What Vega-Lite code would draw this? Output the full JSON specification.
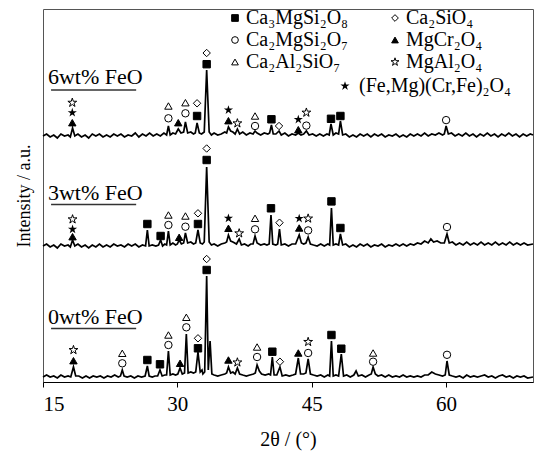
{
"$schema":"https://vega.github.io/schema/vega-lite/v6.json",
"width":490,"height":373,"autosize":{"type":"none"},
"padding":{"left":43,"top":9,"right":3,"bottom":69},
"background":"white",
"config":{"view":{"stroke":"#555","strokeWidth":1},"font":"Liberation Serif"},
"datasets":{
"tr":[
{"s":"6","x":15.0,"y":246},{"s":"6","x":15.4,"y":248},{"s":"6","x":15.8,"y":245},{"s":"6","x":16.2,"y":247},{"s":"6","x":16.6,"y":244},{"s":"6","x":17.0,"y":248},{"s":"6","x":17.4,"y":246},{"s":"6","x":17.8,"y":247},{"s":"6","x":18.05,"y":245},{"s":"6","x":18.3,"y":254},{"s":"6","x":18.55,"y":246},{"s":"6","x":18.9,"y":248},{"s":"6","x":19.3,"y":245},{"s":"6","x":19.7,"y":247},{"s":"6","x":20.1,"y":244},{"s":"6","x":20.5,"y":248},{"s":"6","x":20.9,"y":246},{"s":"6","x":21.3,"y":248},{"s":"6","x":21.7,"y":245},{"s":"6","x":22.1,"y":247},{"s":"6","x":22.5,"y":245},{"s":"6","x":22.9,"y":248},{"s":"6","x":23.3,"y":246},{"s":"6","x":23.7,"y":248},{"s":"6","x":24.1,"y":245},{"s":"6","x":24.5,"y":247},{"s":"6","x":24.9,"y":246},{"s":"6","x":25.3,"y":249},{"s":"6","x":25.7,"y":245},{"s":"6","x":26.1,"y":248},{"s":"6","x":26.5,"y":246},{"s":"6","x":26.9,"y":249},{"s":"6","x":27.3,"y":246},{"s":"6","x":27.7,"y":248},{"s":"6","x":28.1,"y":246},{"s":"6","x":28.5,"y":249},{"s":"6","x":28.8,"y":247},{"s":"6","x":29.0,"y":256},{"s":"6","x":29.2,"y":247},{"s":"6","x":29.5,"y":249},{"s":"6","x":29.8,"y":248},{"s":"6","x":30.1,"y":253},{"s":"6","x":30.4,"y":249},{"s":"6","x":30.7,"y":250},{"s":"6","x":30.9,"y":260},{"s":"6","x":31.15,"y":249},{"s":"6","x":31.5,"y":250},{"s":"6","x":31.8,"y":248},{"s":"6","x":32.0,"y":249},{"s":"6","x":32.2,"y":259},{"s":"6","x":32.45,"y":249},{"s":"6","x":32.7,"y":248},{"s":"6","x":33.0,"y":250},{"s":"6","x":33.27,"y":312},{"s":"6","x":33.55,"y":250},{"s":"6","x":33.8,"y":247},{"s":"6","x":34.1,"y":249},{"s":"6","x":34.5,"y":247},{"s":"6","x":34.9,"y":248},{"s":"6","x":35.3,"y":250},{"s":"6","x":35.5,"y":249},{"s":"6","x":35.7,"y":255},{"s":"6","x":35.95,"y":251},{"s":"6","x":36.2,"y":250},{"s":"6","x":36.45,"y":248},{"s":"6","x":36.7,"y":253},{"s":"6","x":36.95,"y":248},{"s":"6","x":37.3,"y":250},{"s":"6","x":37.7,"y":247},{"s":"6","x":38.1,"y":249},{"s":"6","x":38.45,"y":248},{"s":"6","x":38.67,"y":251},{"s":"6","x":38.9,"y":249},{"s":"6","x":39.3,"y":247},{"s":"6","x":39.7,"y":249},{"s":"6","x":40.1,"y":248},{"s":"6","x":40.3,"y":249},{"s":"6","x":40.5,"y":257},{"s":"6","x":40.7,"y":248},{"s":"6","x":41.0,"y":248},{"s":"6","x":41.35,"y":251},{"s":"6","x":41.6,"y":247},{"s":"6","x":42.0,"y":249},{"s":"6","x":42.4,"y":246},{"s":"6","x":42.8,"y":248},{"s":"6","x":43.2,"y":247},{"s":"6","x":43.5,"y":249},{"s":"6","x":43.8,"y":247},{"s":"6","x":44.1,"y":248},{"s":"6","x":44.4,"y":251},{"s":"6","x":44.7,"y":247},{"s":"6","x":45.1,"y":248},{"s":"6","x":45.5,"y":246},{"s":"6","x":45.9,"y":248},{"s":"6","x":46.3,"y":246},{"s":"6","x":46.7,"y":248},{"s":"6","x":46.95,"y":247},{"s":"6","x":47.15,"y":258},{"s":"6","x":47.4,"y":247},{"s":"6","x":47.7,"y":249},{"s":"6","x":48.0,"y":248},{"s":"6","x":48.2,"y":261},{"s":"6","x":48.45,"y":247},{"s":"6","x":48.8,"y":248},{"s":"6","x":49.2,"y":245},{"s":"6","x":49.6,"y":247},{"s":"6","x":50.0,"y":245},{"s":"6","x":50.4,"y":248},{"s":"6","x":50.8,"y":246},{"s":"6","x":51.2,"y":248},{"s":"6","x":51.6,"y":245},{"s":"6","x":52.0,"y":248},{"s":"6","x":52.4,"y":246},{"s":"6","x":52.8,"y":248},{"s":"6","x":53.2,"y":245},{"s":"6","x":53.6,"y":247},{"s":"6","x":54.0,"y":246},{"s":"6","x":54.4,"y":248},{"s":"6","x":54.8,"y":245},{"s":"6","x":55.2,"y":247},{"s":"6","x":55.6,"y":245},{"s":"6","x":56.0,"y":248},{"s":"6","x":56.4,"y":246},{"s":"6","x":56.8,"y":248},{"s":"6","x":57.2,"y":246},{"s":"6","x":57.6,"y":249},{"s":"6","x":58.0,"y":246},{"s":"6","x":58.4,"y":248},{"s":"6","x":58.8,"y":247},{"s":"6","x":59.2,"y":249},{"s":"6","x":59.6,"y":247},{"s":"6","x":59.8,"y":248},{"s":"6","x":60.0,"y":256},{"s":"6","x":60.25,"y":248},{"s":"6","x":60.6,"y":249},{"s":"6","x":61.0,"y":246},{"s":"6","x":61.4,"y":248},{"s":"6","x":61.8,"y":246},{"s":"6","x":62.2,"y":249},{"s":"6","x":62.6,"y":246},{"s":"6","x":63.0,"y":248},{"s":"6","x":63.4,"y":245},{"s":"6","x":63.8,"y":248},{"s":"6","x":64.2,"y":246},{"s":"6","x":64.6,"y":249},{"s":"6","x":65.0,"y":246},{"s":"6","x":65.4,"y":248},{"s":"6","x":65.8,"y":245},{"s":"6","x":66.2,"y":248},{"s":"6","x":66.6,"y":246},{"s":"6","x":67.0,"y":249},{"s":"6","x":67.4,"y":246},{"s":"6","x":67.8,"y":248},{"s":"6","x":68.2,"y":245},{"s":"6","x":68.6,"y":248},{"s":"6","x":69.0,"y":246},{"s":"6","x":69.4,"y":248},{"s":"6","x":69.7,"y":247},
{"s":"3","x":15.0,"y":136},{"s":"3","x":15.4,"y":138},{"s":"3","x":15.8,"y":135},{"s":"3","x":16.2,"y":137},{"s":"3","x":16.6,"y":134},{"s":"3","x":17.0,"y":138},{"s":"3","x":17.4,"y":136},{"s":"3","x":17.8,"y":137},{"s":"3","x":18.05,"y":135},{"s":"3","x":18.3,"y":142},{"s":"3","x":18.55,"y":136},{"s":"3","x":18.9,"y":138},{"s":"3","x":19.3,"y":135},{"s":"3","x":19.7,"y":137},{"s":"3","x":20.1,"y":134},{"s":"3","x":20.5,"y":137},{"s":"3","x":20.9,"y":135},{"s":"3","x":21.3,"y":138},{"s":"3","x":21.7,"y":135},{"s":"3","x":22.1,"y":137},{"s":"3","x":22.5,"y":135},{"s":"3","x":22.9,"y":138},{"s":"3","x":23.3,"y":136},{"s":"3","x":23.7,"y":137},{"s":"3","x":24.1,"y":135},{"s":"3","x":24.5,"y":138},{"s":"3","x":24.9,"y":136},{"s":"3","x":25.3,"y":138},{"s":"3","x":25.7,"y":135},{"s":"3","x":26.1,"y":137},{"s":"3","x":26.45,"y":136},{"s":"3","x":26.65,"y":152},{"s":"3","x":26.85,"y":136},{"s":"3","x":27.2,"y":137},{"s":"3","x":27.6,"y":136},{"s":"3","x":27.9,"y":137},{"s":"3","x":28.13,"y":142},{"s":"3","x":28.35,"y":136},{"s":"3","x":28.6,"y":138},{"s":"3","x":28.8,"y":137},{"s":"3","x":29.0,"y":151},{"s":"3","x":29.2,"y":137},{"s":"3","x":29.5,"y":139},{"s":"3","x":29.8,"y":137},{"s":"3","x":30.0,"y":138},{"s":"3","x":30.2,"y":142},{"s":"3","x":30.45,"y":138},{"s":"3","x":30.7,"y":139},{"s":"3","x":30.9,"y":149},{"s":"3","x":31.15,"y":139},{"s":"3","x":31.5,"y":140},{"s":"3","x":31.8,"y":138},{"s":"3","x":32.05,"y":139},{"s":"3","x":32.3,"y":152},{"s":"3","x":32.55,"y":139},{"s":"3","x":32.8,"y":138},{"s":"3","x":33.0,"y":140},{"s":"3","x":33.27,"y":215},{"s":"3","x":33.55,"y":140},{"s":"3","x":33.8,"y":137},{"s":"3","x":34.1,"y":138},{"s":"3","x":34.5,"y":136},{"s":"3","x":34.9,"y":138},{"s":"3","x":35.3,"y":139},{"s":"3","x":35.5,"y":140},{"s":"3","x":35.7,"y":147},{"s":"3","x":35.95,"y":141},{"s":"3","x":36.2,"y":140},{"s":"3","x":36.6,"y":138},{"s":"3","x":36.9,"y":143},{"s":"3","x":37.15,"y":137},{"s":"3","x":37.5,"y":138},{"s":"3","x":37.9,"y":136},{"s":"3","x":38.2,"y":138},{"s":"3","x":38.45,"y":138},{"s":"3","x":38.67,"y":146},{"s":"3","x":38.9,"y":139},{"s":"3","x":39.3,"y":137},{"s":"3","x":39.7,"y":138},{"s":"3","x":40.0,"y":137},{"s":"3","x":40.25,"y":138},{"s":"3","x":40.45,"y":167},{"s":"3","x":40.65,"y":138},{"s":"3","x":41.0,"y":137},{"s":"3","x":41.2,"y":138},{"s":"3","x":41.4,"y":153},{"s":"3","x":41.6,"y":137},{"s":"3","x":42.0,"y":138},{"s":"3","x":42.4,"y":136},{"s":"3","x":42.8,"y":138},{"s":"3","x":43.2,"y":138},{"s":"3","x":43.6,"y":147},{"s":"3","x":43.85,"y":139},{"s":"3","x":44.1,"y":138},{"s":"3","x":44.35,"y":139},{"s":"3","x":44.6,"y":145},{"s":"3","x":44.85,"y":138},{"s":"3","x":45.2,"y":137},{"s":"3","x":45.6,"y":136},{"s":"3","x":46.0,"y":138},{"s":"3","x":46.4,"y":136},{"s":"3","x":46.8,"y":138},{"s":"3","x":47.0,"y":137},{"s":"3","x":47.2,"y":174},{"s":"3","x":47.4,"y":137},{"s":"3","x":47.7,"y":138},{"s":"3","x":48.0,"y":137},{"s":"3","x":48.2,"y":148},{"s":"3","x":48.45,"y":137},{"s":"3","x":48.8,"y":138},{"s":"3","x":49.2,"y":135},{"s":"3","x":49.6,"y":137},{"s":"3","x":50.0,"y":135},{"s":"3","x":50.4,"y":138},{"s":"3","x":50.8,"y":136},{"s":"3","x":51.2,"y":138},{"s":"3","x":51.6,"y":135},{"s":"3","x":52.0,"y":137},{"s":"3","x":52.4,"y":136},{"s":"3","x":52.8,"y":138},{"s":"3","x":53.2,"y":135},{"s":"3","x":53.6,"y":137},{"s":"3","x":54.0,"y":136},{"s":"3","x":54.4,"y":138},{"s":"3","x":54.8,"y":136},{"s":"3","x":55.2,"y":138},{"s":"3","x":55.6,"y":136},{"s":"3","x":56.0,"y":138},{"s":"3","x":56.4,"y":137},{"s":"3","x":56.8,"y":139},{"s":"3","x":57.2,"y":138},{"s":"3","x":57.6,"y":141},{"s":"3","x":58.0,"y":139},{"s":"3","x":58.3,"y":143},{"s":"3","x":58.6,"y":140},{"s":"3","x":59.0,"y":141},{"s":"3","x":59.4,"y":139},{"s":"3","x":59.8,"y":139},{"s":"3","x":60.1,"y":148},{"s":"3","x":60.35,"y":139},{"s":"3","x":60.7,"y":140},{"s":"3","x":61.1,"y":137},{"s":"3","x":61.5,"y":139},{"s":"3","x":61.9,"y":137},{"s":"3","x":62.3,"y":140},{"s":"3","x":62.7,"y":137},{"s":"3","x":63.1,"y":139},{"s":"3","x":63.5,"y":137},{"s":"3","x":63.9,"y":140},{"s":"3","x":64.3,"y":137},{"s":"3","x":64.7,"y":139},{"s":"3","x":65.1,"y":137},{"s":"3","x":65.5,"y":140},{"s":"3","x":65.9,"y":137},{"s":"3","x":66.3,"y":139},{"s":"3","x":66.7,"y":137},{"s":"3","x":67.1,"y":140},{"s":"3","x":67.5,"y":137},{"s":"3","x":67.9,"y":139},{"s":"3","x":68.3,"y":137},{"s":"3","x":68.7,"y":139},{"s":"3","x":69.1,"y":137},{"s":"3","x":69.7,"y":138},
{"s":"0","x":15.0,"y":5},{"s":"0","x":15.4,"y":7},{"s":"0","x":15.8,"y":5},{"s":"0","x":16.2,"y":6},{"s":"0","x":16.6,"y":4},{"s":"0","x":17.0,"y":7},{"s":"0","x":17.4,"y":5},{"s":"0","x":17.8,"y":6},{"s":"0","x":18.1,"y":5},{"s":"0","x":18.4,"y":15},{"s":"0","x":18.65,"y":6},{"s":"0","x":19.0,"y":6},{"s":"0","x":19.4,"y":4},{"s":"0","x":19.8,"y":6},{"s":"0","x":20.2,"y":4},{"s":"0","x":20.6,"y":6},{"s":"0","x":21.0,"y":5},{"s":"0","x":21.4,"y":6},{"s":"0","x":21.8,"y":4},{"s":"0","x":22.2,"y":6},{"s":"0","x":22.6,"y":5},{"s":"0","x":23.0,"y":7},{"s":"0","x":23.4,"y":5},{"s":"0","x":23.65,"y":6},{"s":"0","x":23.85,"y":12},{"s":"0","x":24.05,"y":6},{"s":"0","x":24.4,"y":5},{"s":"0","x":24.8,"y":6},{"s":"0","x":25.2,"y":4},{"s":"0","x":25.6,"y":6},{"s":"0","x":26.0,"y":5},{"s":"0","x":26.4,"y":6},{"s":"0","x":26.65,"y":16},{"s":"0","x":26.85,"y":6},{"s":"0","x":27.2,"y":5},{"s":"0","x":27.5,"y":6},{"s":"0","x":27.8,"y":6},{"s":"0","x":28.06,"y":12},{"s":"0","x":28.3,"y":6},{"s":"0","x":28.6,"y":7},{"s":"0","x":28.8,"y":7},{"s":"0","x":29.0,"y":31},{"s":"0","x":29.2,"y":7},{"s":"0","x":29.5,"y":8},{"s":"0","x":29.8,"y":7},{"s":"0","x":30.05,"y":8},{"s":"0","x":30.3,"y":14},{"s":"0","x":30.55,"y":8},{"s":"0","x":30.8,"y":9},{"s":"0","x":31.0,"y":48},{"s":"0","x":31.2,"y":9},{"s":"0","x":31.5,"y":10},{"s":"0","x":31.8,"y":9},{"s":"0","x":32.05,"y":10},{"s":"0","x":32.3,"y":30},{"s":"0","x":32.55,"y":10},{"s":"0","x":32.75,"y":12},{"s":"0","x":32.85,"y":8},{"s":"0","x":33.05,"y":10},{"s":"0","x":33.27,"y":106},{"s":"0","x":33.45,"y":12},{"s":"0","x":33.65,"y":41},{"s":"0","x":33.85,"y":8},{"s":"0","x":34.1,"y":7},{"s":"0","x":34.5,"y":6},{"s":"0","x":34.9,"y":7},{"s":"0","x":35.3,"y":8},{"s":"0","x":35.5,"y":9},{"s":"0","x":35.7,"y":15},{"s":"0","x":35.95,"y":9},{"s":"0","x":36.2,"y":10},{"s":"0","x":36.45,"y":8},{"s":"0","x":36.7,"y":14},{"s":"0","x":36.95,"y":8},{"s":"0","x":37.3,"y":7},{"s":"0","x":37.7,"y":6},{"s":"0","x":38.1,"y":7},{"s":"0","x":38.5,"y":8},{"s":"0","x":38.7,"y":9},{"s":"0","x":38.9,"y":17},{"s":"0","x":39.15,"y":11},{"s":"0","x":39.4,"y":8},{"s":"0","x":39.8,"y":7},{"s":"0","x":40.2,"y":8},{"s":"0","x":40.4,"y":7},{"s":"0","x":40.6,"y":25},{"s":"0","x":40.8,"y":7},{"s":"0","x":41.1,"y":7},{"s":"0","x":41.45,"y":15},{"s":"0","x":41.7,"y":6},{"s":"0","x":42.1,"y":7},{"s":"0","x":42.5,"y":6},{"s":"0","x":42.9,"y":7},{"s":"0","x":43.2,"y":8},{"s":"0","x":43.5,"y":24},{"s":"0","x":43.75,"y":8},{"s":"0","x":44.1,"y":8},{"s":"0","x":44.35,"y":9},{"s":"0","x":44.6,"y":23},{"s":"0","x":44.85,"y":8},{"s":"0","x":45.2,"y":7},{"s":"0","x":45.6,"y":6},{"s":"0","x":46.0,"y":7},{"s":"0","x":46.4,"y":5},{"s":"0","x":46.8,"y":7},{"s":"0","x":47.0,"y":6},{"s":"0","x":47.2,"y":41},{"s":"0","x":47.4,"y":6},{"s":"0","x":47.7,"y":7},{"s":"0","x":48.0,"y":6},{"s":"0","x":48.3,"y":28},{"s":"0","x":48.55,"y":6},{"s":"0","x":48.9,"y":7},{"s":"0","x":49.3,"y":5},{"s":"0","x":49.7,"y":7},{"s":"0","x":49.95,"y":11},{"s":"0","x":50.2,"y":6},{"s":"0","x":50.6,"y":7},{"s":"0","x":51.0,"y":5},{"s":"0","x":51.4,"y":7},{"s":"0","x":51.65,"y":8},{"s":"0","x":51.85,"y":15},{"s":"0","x":52.1,"y":8},{"s":"0","x":52.4,"y":6},{"s":"0","x":52.8,"y":7},{"s":"0","x":53.2,"y":5},{"s":"0","x":53.6,"y":7},{"s":"0","x":54.0,"y":5},{"s":"0","x":54.4,"y":6},{"s":"0","x":54.8,"y":5},{"s":"0","x":55.2,"y":7},{"s":"0","x":55.6,"y":5},{"s":"0","x":56.0,"y":6},{"s":"0","x":56.4,"y":5},{"s":"0","x":56.8,"y":6},{"s":"0","x":57.2,"y":5},{"s":"0","x":57.6,"y":7},{"s":"0","x":58.0,"y":7},{"s":"0","x":58.4,"y":10},{"s":"0","x":58.8,"y":8},{"s":"0","x":59.2,"y":7},{"s":"0","x":59.6,"y":6},{"s":"0","x":59.9,"y":7},{"s":"0","x":60.1,"y":21},{"s":"0","x":60.35,"y":7},{"s":"0","x":60.7,"y":6},{"s":"0","x":61.1,"y":5},{"s":"0","x":61.5,"y":6},{"s":"0","x":61.9,"y":4},{"s":"0","x":62.3,"y":7},{"s":"0","x":62.7,"y":5},{"s":"0","x":63.1,"y":6},{"s":"0","x":63.5,"y":5},{"s":"0","x":63.9,"y":6},{"s":"0","x":64.3,"y":7},{"s":"0","x":64.7,"y":5},{"s":"0","x":65.1,"y":6},{"s":"0","x":65.5,"y":4},{"s":"0","x":65.9,"y":6},{"s":"0","x":66.3,"y":7},{"s":"0","x":66.7,"y":5},{"s":"0","x":67.1,"y":6},{"s":"0","x":67.5,"y":4},{"s":"0","x":67.9,"y":6},{"s":"0","x":68.3,"y":5},{"s":"0","x":68.7,"y":6},{"s":"0","x":69.1,"y":4},{"s":"0","x":69.7,"y":5}
],
"mk":[
{"x":18.27,"y":279.3,"p":"MgAl₂O₄"},{"x":18.27,"y":259.3,"p":"MgCr₂O₄"},{"x":29.0,"y":276,"p":"Ca₂Al₂SiO₇"},{"x":29.0,"y":263.7,"p":"Ca₂MgSi₂O₇"},{"x":30.1,"y":259.3,"p":"MgCr₂O₄"},{"x":30.9,"y":279.3,"p":"Ca₂Al₂SiO₇"},{"x":30.9,"y":268.7,"p":"Ca₂MgSi₂O₇"},{"x":32.2,"y":278.7,"p":"Ca₂SiO₄"},{"x":32.2,"y":266,"p":"Ca₃MgSi₂O₈"},{"x":33.27,"y":329,"p":"Ca₂SiO₄"},{"x":33.27,"y":317.8,"p":"Ca₃MgSi₂O₈"},{"x":35.7,"y":261.3,"p":"MgCr₂O₄"},{"x":36.7,"y":258.7,"p":"MgAl₂O₄"},{"x":38.67,"y":266,"p":"Ca₂Al₂SiO₇"},{"x":38.67,"y":256,"p":"Ca₂MgSi₂O₇"},{"x":40.5,"y":262.7,"p":"Ca₃MgSi₂O₈"},{"x":41.35,"y":256,"p":"Ca₂SiO₄"},{"x":43.5,"y":252.3,"p":"MgCr₂O₄"},{"x":44.4,"y":269.4,"p":"MgAl₂O₄"},{"x":44.4,"y":256.4,"p":"Ca₂MgSi₂O₇"},{"x":47.15,"y":263.2,"p":"Ca₃MgSi₂O₈"},{"x":48.2,"y":266,"p":"Ca₃MgSi₂O₈"},{"x":60.0,"y":261.9,"p":"Ca₂MgSi₂O₇"},
{"x":18.3,"y":162.7,"p":"MgAl₂O₄"},{"x":18.3,"y":145.3,"p":"MgCr₂O₄"},{"x":26.65,"y":158,"p":"Ca₃MgSi₂O₈"},{"x":28.13,"y":146,"p":"Ca₃MgSi₂O₈"},{"x":29.0,"y":167,"p":"Ca₂Al₂SiO₇"},{"x":29.0,"y":157,"p":"Ca₂MgSi₂O₇"},{"x":30.2,"y":144.7,"p":"MgCr₂O₄"},{"x":30.9,"y":166,"p":"Ca₂Al₂SiO₇"},{"x":30.9,"y":155.3,"p":"Ca₂MgSi₂O₇"},{"x":32.3,"y":168.7,"p":"Ca₂SiO₄"},{"x":32.3,"y":158,"p":"Ca₃MgSi₂O₈"},{"x":33.27,"y":233.5,"p":"Ca₂SiO₄"},{"x":33.27,"y":222,"p":"Ca₃MgSi₂O₈"},{"x":35.7,"y":153.7,"p":"MgCr₂O₄"},{"x":36.9,"y":148.7,"p":"MgAl₂O₄"},{"x":38.67,"y":163.7,"p":"Ca₂Al₂SiO₇"},{"x":38.67,"y":152.7,"p":"Ca₂MgSi₂O₇"},{"x":40.45,"y":173.7,"p":"Ca₃MgSi₂O₈"},{"x":41.4,"y":159.3,"p":"Ca₂SiO₄"},{"x":43.6,"y":154,"p":"MgCr₂O₄"},{"x":44.6,"y":163.5,"p":"MgAl₂O₄"},{"x":44.6,"y":151.6,"p":"Ca₂MgSi₂O₇"},{"x":47.2,"y":180.6,"p":"Ca₃MgSi₂O₈"},{"x":48.2,"y":154,"p":"Ca₃MgSi₂O₈"},{"x":60.1,"y":155,"p":"Ca₂MgSi₂O₇"},
{"x":18.4,"y":32,"p":"MgAl₂O₄"},{"x":18.4,"y":21.3,"p":"MgCr₂O₄"},{"x":23.85,"y":28.7,"p":"Ca₂Al₂SiO₇"},{"x":23.85,"y":18.7,"p":"Ca₂MgSi₂O₇"},{"x":26.65,"y":22,"p":"Ca₃MgSi₂O₈"},{"x":28.06,"y":17.7,"p":"Ca₃MgSi₂O₈"},{"x":29.0,"y":47,"p":"Ca₂Al₂SiO₇"},{"x":29.0,"y":37,"p":"Ca₂MgSi₂O₇"},{"x":30.3,"y":18.7,"p":"MgCr₂O₄"},{"x":31.0,"y":64.7,"p":"Ca₂Al₂SiO₇"},{"x":31.0,"y":54.7,"p":"Ca₂MgSi₂O₇"},{"x":32.3,"y":43.7,"p":"Ca₂SiO₄"},{"x":32.3,"y":33.7,"p":"Ca₃MgSi₂O₈"},{"x":33.27,"y":123,"p":"Ca₂SiO₄"},{"x":33.27,"y":112,"p":"Ca₃MgSi₂O₈"},{"x":35.7,"y":22,"p":"MgCr₂O₄"},{"x":36.7,"y":19.6,"p":"MgAl₂O₄"},{"x":38.9,"y":35,"p":"Ca₂Al₂SiO₇"},{"x":38.9,"y":25,"p":"Ca₂MgSi₂O₇"},{"x":40.6,"y":30.3,"p":"Ca₃MgSi₂O₈"},{"x":41.45,"y":20.3,"p":"Ca₂SiO₄"},{"x":43.5,"y":29,"p":"MgCr₂O₄"},{"x":44.6,"y":40.1,"p":"MgAl₂O₄"},{"x":44.6,"y":29,"p":"Ca₂MgSi₂O₇"},{"x":47.2,"y":47,"p":"Ca₃MgSi₂O₈"},{"x":48.3,"y":33.3,"p":"Ca₃MgSi₂O₈"},{"x":51.85,"y":29,"p":"Ca₂Al₂SiO₇"},{"x":51.85,"y":20.3,"p":"Ca₂MgSi₂O₇"},{"x":60.1,"y":27.2,"p":"Ca₂MgSi₂O₇"}
],
"st":[
{"x":18.27,"y":269.3,"p":"(Fe,Mg)(Cr,Fe)₂O₄"},{"x":35.7,"y":272,"p":"(Fe,Mg)(Cr,Fe)₂O₄"},{"x":43.5,"y":262.5,"p":"(Fe,Mg)(Cr,Fe)₂O₄"},
{"x":18.3,"y":152.7,"p":"(Fe,Mg)(Cr,Fe)₂O₄"},{"x":35.7,"y":163.7,"p":"(Fe,Mg)(Cr,Fe)₂O₄"},{"x":43.6,"y":163.5,"p":"(Fe,Mg)(Cr,Fe)₂O₄"}
],
"lb":[
{"x":15.55,"y":305,"t":"6wt% FeO"},{"x":15.55,"y":189,"t":"3wt% FeO"},{"x":15.55,"y":65,"t":"0wt% FeO"}
],
"ul":[
{"x":15.9,"x2":25.4,"y":292},{"x":15.9,"x2":25.4,"y":177.5},{"x":15.9,"x2":25.4,"y":53.5}
]
},
"layer":[
{"data":{"name":"tr"},"mark":{"type":"line","color":"black","strokeWidth":1.7},
"encoding":{
"x":{"field":"x","type":"quantitative","scale":{"domain":[15,69.7],"nice":false,"zero":false},
"axis":{"values":[15,30,45,60],"grid":false,"tickSize":5,"tickColor":"black","domainColor":"black","labelFont":"Liberation Serif","labelFontSize":21,"labelColor":"black","labelPadding":6,"title":"2θ / (°)","titleFont":"Liberation Serif","titleFontSize":20,"titleFontWeight":"normal","titleColor":"black","titlePadding":15}},
"y":{"field":"y","type":"quantitative","scale":{"domain":[0,373],"nice":false,"zero":false},
"axis":{"labels":false,"ticks":false,"domain":false,"grid":false,"title":"Intensity / a.u.","titleFont":"Liberation Serif","titleFontSize":18,"titleFontWeight":"normal","titleColor":"black","titlePadding":10}},
"detail":{"field":"s"}}},
{"data":{"name":"ul"},"mark":{"type":"rule","color":"#333","strokeWidth":1.5},
"encoding":{"x":{"field":"x","type":"quantitative"},"x2":{"field":"x2"},"y":{"field":"y","type":"quantitative"}}},
{"data":{"name":"lb"},"mark":{"type":"text","align":"left","baseline":"middle","font":"Liberation Serif","fontSize":22,"color":"black"},
"encoding":{"x":{"field":"x","type":"quantitative"},"y":{"field":"y","type":"quantitative"},"text":{"field":"t"}}},
{"data":{"name":"mk"},"mark":{"type":"point","filled":true,"strokeWidth":1,"size":55,"opacity":1},
"encoding":{"x":{"field":"x","type":"quantitative"},"y":{"field":"y","type":"quantitative"},
"shape":{"field":"p","type":"nominal","scale":{"domain":["Ca₃MgSi₂O₈","Ca₂MgSi₂O₇","Ca₂Al₂SiO₇","Ca₂SiO₄","MgCr₂O₄","MgAl₂O₄"],"range":["square","circle","triangle-up","diamond","triangle-up","M0,-1.25L0.281,-0.386L1.189,-0.386L0.454,0.148L0.735,1.011L0,0.478L-0.735,1.011L-0.454,0.148L-1.189,-0.386L-0.281,-0.386Z"]},
"legend":{"title":null,"orient":"none","legendX":182,"legendY":-1,"columns":2,"columnPadding":36,"rowPadding":2,"labelFont":"Liberation Serif","labelFontSize":20,"labelColor":"black","labelOffset":1,"labelLimit":300,"symbolSize":45,"symbolStrokeWidth":1,"padding":0}},
"fill":{"field":"p","type":"nominal","scale":{"domain":["Ca₃MgSi₂O₈","Ca₂MgSi₂O₇","Ca₂Al₂SiO₇","Ca₂SiO₄","MgCr₂O₄","MgAl₂O₄"],"range":["black","white","white","white","black","white"]},
"legend":{"title":null,"orient":"none","legendX":182,"legendY":-1,"columns":2,"columnPadding":36,"rowPadding":2,"labelFont":"Liberation Serif","labelFontSize":20,"labelColor":"black","labelOffset":1,"labelLimit":300,"symbolSize":45,"symbolStrokeWidth":1,"padding":0}},
"stroke":{"field":"p","type":"nominal","scale":{"domain":["Ca₃MgSi₂O₈","Ca₂MgSi₂O₇","Ca₂Al₂SiO₇","Ca₂SiO₄","MgCr₂O₄","MgAl₂O₄"],"range":["black","black","black","black","black","black"]},
"legend":{"title":null,"orient":"none","legendX":182,"legendY":-1,"columns":2,"columnPadding":36,"rowPadding":2,"labelFont":"Liberation Serif","labelFontSize":20,"labelColor":"black","labelOffset":1,"labelLimit":300,"symbolSize":45,"symbolStrokeWidth":1,"padding":0}}}},
{"data":{"name":"st"},"mark":{"type":"point","filled":true,"color":"black","opacity":1,"shape":"M0,-1.25L0.281,-0.386L1.189,-0.386L0.454,0.148L0.735,1.011L0,0.478L-0.735,1.011L-0.454,0.148L-1.189,-0.386L-0.281,-0.386Z"},
"encoding":{"x":{"field":"x","type":"quantitative"},"y":{"field":"y","type":"quantitative"},
"size":{"field":"p","type":"ordinal","scale":{"range":[60,60]},
"legend":{"title":null,"orient":"none","legendX":292,"legendY":67,"labelFont":"Liberation Serif","labelFontSize":20,"labelColor":"black","labelOffset":4,"labelLimit":300,"symbolFillColor":"black","symbolStrokeColor":"black","padding":0}}}}
]
}
